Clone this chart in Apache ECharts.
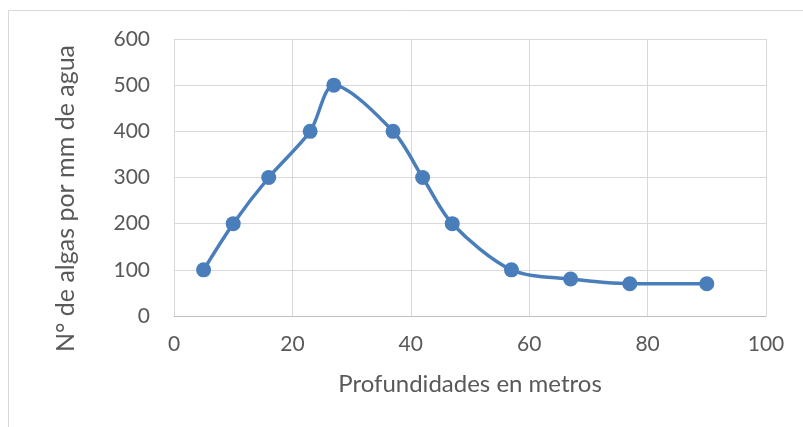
<!DOCTYPE html>
<html>
<head>
<meta charset="utf-8">
<script src="https://cdn.jsdelivr.net/npm/echarts@6/dist/echarts.min.js"></script>
<style>
  html, body { margin: 0; padding: 0; background: #fff; }
  #chart { width: 803px; height: 427px; }
</style>
</head>
<body>
<div id="chart"></div>
<script>
// Depth (m) and algae count per mm of water
const depths = [5, 10, 16, 23, 27, 37, 42, 47, 57, 67, 77, 90];
const algae = [100, 200, 300, 400, 500, 400, 300, 200, 100, 80, 70, 70];
const xTitle = 'Profundidades en metros';
const yTitle = 'N° de algas por mm de agua';

const font = 'Lato, "Open Sans", sans-serif';
const chart = echarts.init(document.getElementById('chart'));
chart.setOption({
  animation: false,
  graphic: [{
    type: 'rect',
    shape: { x: 8.5, y: 10.5, width: 900, height: 500 },
    style: { fill: 'none', stroke: '#d9d9d9', lineWidth: 1 },
    silent: true
  }],
  grid: { left: 174, top: 39, width: 592, height: 277 },
  xAxis: {
    type: 'value', min: 0, max: 100, interval: 20,
    name: xTitle, nameLocation: 'middle', nameGap: 56,
    nameTextStyle: { color: '#595959', fontSize: 24, fontFamily: font },
    axisLine: { show: true, lineStyle: { color: '#bfbfbf', width: 1 } },
    axisTick: { show: false },
    axisLabel: { color: '#595959', fontSize: 21, fontFamily: font, margin: 18 },
    splitLine: { show: true, lineStyle: { color: '#d9d9d9', width: 1 } }
  },
  yAxis: {
    type: 'value', min: 0, max: 600, interval: 100,
    name: yTitle, nameLocation: 'middle', nameGap: 96,
    nameTextStyle: { color: '#595959', fontSize: 25, fontFamily: font, padding: [0, 42, 0, 0] },
    axisLine: { show: false },
    axisTick: { show: false },
    axisLabel: { color: '#595959', fontSize: 21, fontFamily: font, margin: 24 },
    splitLine: { show: true, lineStyle: { color: '#d9d9d9', width: 1 } }
  },
  series: [{
    type: 'line',
    data: depths.map((d, i) => [d, algae[i]]),
    smooth: 0.3,
    symbol: 'circle',
    symbolSize: 15,
    lineStyle: { color: '#4a7ebb', width: 3.5 },
    itemStyle: { color: '#4a7ebb' }
  }]
});
</script>
</body>
</html>
